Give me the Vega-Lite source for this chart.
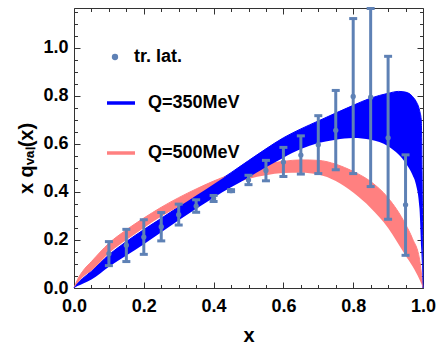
{
  "$schema": "https://vega.github.io/schema/vega-lite/v6.json",
  "width": 349,
  "height": 280,
  "autosize": "none",
  "padding": {"left": 74, "top": 8, "right": 14, "bottom": 59},
  "config": {
    "font": "Liberation Sans",
    "view": {"stroke": null},
    "axis": {
      "grid": false,
      "zindex": 1,
      "labelFont": "Liberation Sans",
      "labelFontSize": 18,
      "labelFontWeight": "bold",
      "labelColor": "black",
      "labelFlush": false,
      "labelOverlap": false,
      "domainColor": "#333333",
      "tickColor": "#333333",
      "titleFont": "Liberation Sans",
      "titleFontSize": 20,
      "titleFontWeight": "bold",
      "titleColor": "black"
    },
    "legend": {
      "labelFont": "Liberation Sans",
      "labelFontSize": 18,
      "labelFontWeight": "bold",
      "labelColor": "black",
      "labelLimit": 300
    }
  },
  "datasets": {
    "bands": [
      {"x": 0, "lo": 0, "hi": 0, "series": "Q=500MeV"},
      {"x": 0.01, "lo": 0.02, "hi": 0.035, "series": "Q=500MeV"},
      {"x": 0.025, "lo": 0.045, "hi": 0.07, "series": "Q=500MeV"},
      {"x": 0.05, "lo": 0.072, "hi": 0.11, "series": "Q=500MeV"},
      {"x": 0.1, "lo": 0.145, "hi": 0.186, "series": "Q=500MeV"},
      {"x": 0.15, "lo": 0.2, "hi": 0.242, "series": "Q=500MeV"},
      {"x": 0.2, "lo": 0.25, "hi": 0.291, "series": "Q=500MeV"},
      {"x": 0.25, "lo": 0.297, "hi": 0.336, "series": "Q=500MeV"},
      {"x": 0.3, "lo": 0.338, "hi": 0.376, "series": "Q=500MeV"},
      {"x": 0.35, "lo": 0.374, "hi": 0.412, "series": "Q=500MeV"},
      {"x": 0.4, "lo": 0.405, "hi": 0.445, "series": "Q=500MeV"},
      {"x": 0.45, "lo": 0.432, "hi": 0.473, "series": "Q=500MeV"},
      {"x": 0.5, "lo": 0.454, "hi": 0.497, "series": "Q=500MeV"},
      {"x": 0.55, "lo": 0.469, "hi": 0.515, "series": "Q=500MeV"},
      {"x": 0.6, "lo": 0.478, "hi": 0.527, "series": "Q=500MeV"},
      {"x": 0.65, "lo": 0.48, "hi": 0.533, "series": "Q=500MeV"},
      {"x": 0.7, "lo": 0.472, "hi": 0.531, "series": "Q=500MeV"},
      {"x": 0.75, "lo": 0.445, "hi": 0.515, "series": "Q=500MeV"},
      {"x": 0.8, "lo": 0.397, "hi": 0.485, "series": "Q=500MeV"},
      {"x": 0.85, "lo": 0.333, "hi": 0.443, "series": "Q=500MeV"},
      {"x": 0.9, "lo": 0.25, "hi": 0.375, "series": "Q=500MeV"},
      {"x": 0.95, "lo": 0.135, "hi": 0.265, "series": "Q=500MeV"},
      {"x": 0.97, "lo": 0.09, "hi": 0.205, "series": "Q=500MeV"},
      {"x": 0.99, "lo": 0.035, "hi": 0.12, "series": "Q=500MeV"},
      {"x": 1, "lo": 0, "hi": 0, "series": "Q=500MeV"},
      {"x": 0, "lo": 0, "hi": 0, "series": "Q=350MeV"},
      {"x": 0.01, "lo": 0.008, "hi": 0.02, "series": "Q=350MeV"},
      {"x": 0.025, "lo": 0.018, "hi": 0.04, "series": "Q=350MeV"},
      {"x": 0.05, "lo": 0.035, "hi": 0.07, "series": "Q=350MeV"},
      {"x": 0.1, "lo": 0.088, "hi": 0.138, "series": "Q=350MeV"},
      {"x": 0.15, "lo": 0.135, "hi": 0.193, "series": "Q=350MeV"},
      {"x": 0.2, "lo": 0.182, "hi": 0.243, "series": "Q=350MeV"},
      {"x": 0.25, "lo": 0.232, "hi": 0.29, "series": "Q=350MeV"},
      {"x": 0.3, "lo": 0.282, "hi": 0.338, "series": "Q=350MeV"},
      {"x": 0.35, "lo": 0.33, "hi": 0.385, "series": "Q=350MeV"},
      {"x": 0.4, "lo": 0.376, "hi": 0.432, "series": "Q=350MeV"},
      {"x": 0.45, "lo": 0.419, "hi": 0.48, "series": "Q=350MeV"},
      {"x": 0.5, "lo": 0.46, "hi": 0.53, "series": "Q=350MeV"},
      {"x": 0.55, "lo": 0.502, "hi": 0.579, "series": "Q=350MeV"},
      {"x": 0.6, "lo": 0.542, "hi": 0.625, "series": "Q=350MeV"},
      {"x": 0.65, "lo": 0.578, "hi": 0.662, "series": "Q=350MeV"},
      {"x": 0.7, "lo": 0.603, "hi": 0.695, "series": "Q=350MeV"},
      {"x": 0.75, "lo": 0.617, "hi": 0.728, "series": "Q=350MeV"},
      {"x": 0.8, "lo": 0.624, "hi": 0.76, "series": "Q=350MeV"},
      {"x": 0.85, "lo": 0.617, "hi": 0.79, "series": "Q=350MeV"},
      {"x": 0.9, "lo": 0.59, "hi": 0.81, "series": "Q=350MeV"},
      {"x": 0.93, "lo": 0.555, "hi": 0.818, "series": "Q=350MeV"},
      {"x": 0.95, "lo": 0.52, "hi": 0.815, "series": "Q=350MeV"},
      {"x": 0.97, "lo": 0.47, "hi": 0.797, "series": "Q=350MeV"},
      {"x": 0.98, "lo": 0.43, "hi": 0.777, "series": "Q=350MeV"},
      {"x": 0.99, "lo": 0.33, "hi": 0.74, "series": "Q=350MeV"},
      {"x": 0.995, "lo": 0.16, "hi": 0.7, "series": "Q=350MeV"},
      {"x": 1, "lo": 0, "hi": 0, "series": "Q=350MeV"}
    ],
    "lat": [
      {"x": 0.1, "y": 0.143, "lo": 0.093, "hi": 0.193, "series": "tr. lat."},
      {"x": 0.15, "y": 0.178, "lo": 0.11, "hi": 0.244, "series": "tr. lat."},
      {"x": 0.2, "y": 0.212, "lo": 0.14, "hi": 0.284, "series": "tr. lat."},
      {"x": 0.25, "y": 0.255, "lo": 0.196, "hi": 0.314, "series": "tr. lat."},
      {"x": 0.3, "y": 0.305, "lo": 0.262, "hi": 0.349, "series": "tr. lat."},
      {"x": 0.35, "y": 0.341, "lo": 0.315, "hi": 0.367, "series": "tr. lat."},
      {"x": 0.4, "y": 0.372, "lo": 0.36, "hi": 0.385, "series": "tr. lat."},
      {"x": 0.45, "y": 0.405, "lo": 0.401, "hi": 0.409, "series": "tr. lat."},
      {"x": 0.5, "y": 0.449, "lo": 0.43, "hi": 0.469, "series": "tr. lat."},
      {"x": 0.55, "y": 0.489, "lo": 0.446, "hi": 0.531, "series": "tr. lat."},
      {"x": 0.6, "y": 0.524, "lo": 0.464, "hi": 0.585, "series": "tr. lat."},
      {"x": 0.65, "y": 0.553, "lo": 0.474, "hi": 0.633, "series": "tr. lat."},
      {"x": 0.7, "y": 0.596, "lo": 0.476, "hi": 0.717, "series": "tr. lat."},
      {"x": 0.75, "y": 0.656, "lo": 0.492, "hi": 0.822, "series": "tr. lat."},
      {"x": 0.8, "y": 0.797, "lo": 0.476, "hi": 1.121, "series": "tr. lat."},
      {"x": 0.85, "y": 0.794, "lo": 0.422, "hi": 1.163, "series": "tr. lat."},
      {"x": 0.9, "y": 0.625, "lo": 0.286, "hi": 0.964, "series": "tr. lat."},
      {"x": 0.95, "y": 0.346, "lo": 0.136, "hi": 0.554, "series": "tr. lat."}
    ]
  },
  "layer": [
    {
      "data": {"name": "bands"},
      "mark": {"type": "line", "interpolate": "monotone", "strokeWidth": 1},
      "encoding": {
        "x": {"field": "x", "type": "quantitative", "scale": {"domain": [0, 1], "nice": false},
          "axis": {
            "orient": "bottom",
            "values": [0, 0.05, 0.1, 0.15, 0.2, 0.25, 0.3, 0.35, 0.4, 0.45, 0.5, 0.55, 0.6, 0.65, 0.7, 0.75, 0.8, 0.85, 0.9, 0.95, 1],
            "labelExpr": "abs(datum.value*5 - round(datum.value*5)) < 0.001 ? format(datum.value, '.1f') : ''",
            "tickSize": {"condition": {"test": "abs(datum.value*5 - round(datum.value*5)) < 0.001", "value": -6}, "value": -3.5},
            "labelPadding": {"condition": {"test": "abs(datum.value*5 - round(datum.value*5)) < 0.001", "value": 15}, "value": 12.5},
            "title": "x",
            "titlePadding": 10
          }},
        "y": {"field": "hi", "type": "quantitative", "scale": {"domain": [0, 1.165], "nice": false, "zero": false},
          "axis": {
            "orient": "left",
            "values": [0, 0.05, 0.1, 0.15, 0.2, 0.25, 0.3, 0.35, 0.4, 0.45, 0.5, 0.55, 0.6, 0.65, 0.7, 0.75, 0.8, 0.85, 0.9, 0.95, 1, 1.05, 1.1, 1.15],
            "labelExpr": "abs(datum.value*5 - round(datum.value*5)) < 0.001 ? format(datum.value, '.1f') : ''",
            "tickSize": {"condition": {"test": "abs(datum.value*5 - round(datum.value*5)) < 0.001", "value": -6}, "value": -3.5},
            "labelPadding": {"condition": {"test": "abs(datum.value*5 - round(datum.value*5)) < 0.001", "value": 12}, "value": 9.5},
            "title": "x qᵥₐₗ(x)",
            "titleX": -42,
            "titleY": 150,
            "titleAngle": -90,
            "titleAlign": "center",
            "titleBaseline": "alphabetic"
          }},
        "color": {"field": "series", "type": "nominal",
          "scale": {"domain": ["Q=350MeV", "Q=500MeV"], "range": ["#0000ff", "#ff8080"]},
          "legend": {
            "title": null,
            "orient": "none",
            "legendX": 31,
            "legendY": 79,
            "padding": 0,
            "rowPadding": 25,
            "symbolType": "stroke",
            "symbolSize": 784,
            "symbolStrokeWidth": 3.5,
            "symbolOpacity": 1,
            "labelOffset": 11
          }}
      }
    },
    {
      "data": {"name": "bands"},
      "transform": [{"filter": "datum.series === 'Q=500MeV'"}],
      "mark": {"type": "area", "interpolate": "monotone", "opacity": 1, "color": "#ff8080"},
      "encoding": {
        "x": {"field": "x", "type": "quantitative", "scale": {"domain": [0, 1], "nice": false}, "axis": null},
        "y": {"field": "hi", "type": "quantitative", "scale": {"domain": [0, 1.165], "nice": false, "zero": false}, "axis": null},
        "y2": {"field": "lo"}
      }
    },
    {
      "data": {"name": "bands"},
      "transform": [{"filter": "datum.series === 'Q=350MeV'"}],
      "mark": {"type": "area", "interpolate": "monotone", "opacity": 1, "color": "#0000ff"},
      "encoding": {
        "x": {"field": "x", "type": "quantitative", "scale": {"domain": [0, 1], "nice": false}, "axis": null},
        "y": {"field": "hi", "type": "quantitative", "scale": {"domain": [0, 1.165], "nice": false, "zero": false}, "axis": null},
        "y2": {"field": "lo"}
      }
    },
    {
      "data": {"name": "lat"},
      "mark": {"type": "rule", "color": "#5e81b5", "strokeWidth": 3},
      "encoding": {
        "x": {"field": "x", "type": "quantitative", "scale": {"domain": [0, 1], "nice": false}, "axis": null},
        "y": {"field": "lo", "type": "quantitative", "scale": {"domain": [0, 1.165], "nice": false, "zero": false}, "axis": null},
        "y2": {"field": "hi"}
      }
    },
    {
      "data": {"name": "lat"},
      "mark": {"type": "tick", "orient": "horizontal", "color": "#5e81b5", "size": 8, "thickness": 3, "opacity": 1},
      "encoding": {
        "x": {"field": "x", "type": "quantitative", "scale": {"domain": [0, 1], "nice": false}, "axis": null},
        "y": {"field": "lo", "type": "quantitative", "scale": {"domain": [0, 1.165], "nice": false, "zero": false}, "axis": null}
      }
    },
    {
      "data": {"name": "lat"},
      "mark": {"type": "tick", "orient": "horizontal", "color": "#5e81b5", "size": 8, "thickness": 3, "opacity": 1},
      "encoding": {
        "x": {"field": "x", "type": "quantitative", "scale": {"domain": [0, 1], "nice": false}, "axis": null},
        "y": {"field": "hi", "type": "quantitative", "scale": {"domain": [0, 1.165], "nice": false, "zero": false}, "axis": null}
      }
    },
    {
      "data": {"name": "lat"},
      "mark": {"type": "point", "filled": true, "size": 28, "opacity": 1, "color": "#5e81b5"},
      "encoding": {
        "x": {"field": "x", "type": "quantitative", "scale": {"domain": [0, 1], "nice": false},
          "axis": {
            "orient": "top",
            "values": [0, 0.05, 0.1, 0.15, 0.2, 0.25, 0.3, 0.35, 0.4, 0.45, 0.5, 0.55, 0.6, 0.65, 0.7, 0.75, 0.8, 0.85, 0.9, 0.95, 1],
            "labels": false,
            "tickSize": {"condition": {"test": "abs(datum.value*5 - round(datum.value*5)) < 0.001", "value": -6}, "value": -3.5},
            "title": null
          }},
        "y": {"field": "y", "type": "quantitative", "scale": {"domain": [0, 1.165], "nice": false, "zero": false},
          "axis": {
            "orient": "right",
            "values": [0, 0.05, 0.1, 0.15, 0.2, 0.25, 0.3, 0.35, 0.4, 0.45, 0.5, 0.55, 0.6, 0.65, 0.7, 0.75, 0.8, 0.85, 0.9, 0.95, 1, 1.05, 1.1, 1.15],
            "labels": false,
            "tickSize": {"condition": {"test": "abs(datum.value*5 - round(datum.value*5)) < 0.001", "value": -6}, "value": -3.5},
            "title": null
          }},
        "shape": {"field": "series", "type": "nominal",
          "scale": {"domain": ["tr. lat."], "range": ["circle"]},
          "legend": {
            "title": null,
            "orient": "none",
            "legendX": 32,
            "legendY": 40,
            "padding": 0,
            "symbolSize": 40,
            "symbolFillColor": "#5e81b5",
            "symbolStrokeWidth": 0,
            "symbolOpacity": 1,
            "labelOffset": 10
          }}
      }
    }
  ],
  "resolve": {"axis": {"x": "independent", "y": "independent"}}
}
